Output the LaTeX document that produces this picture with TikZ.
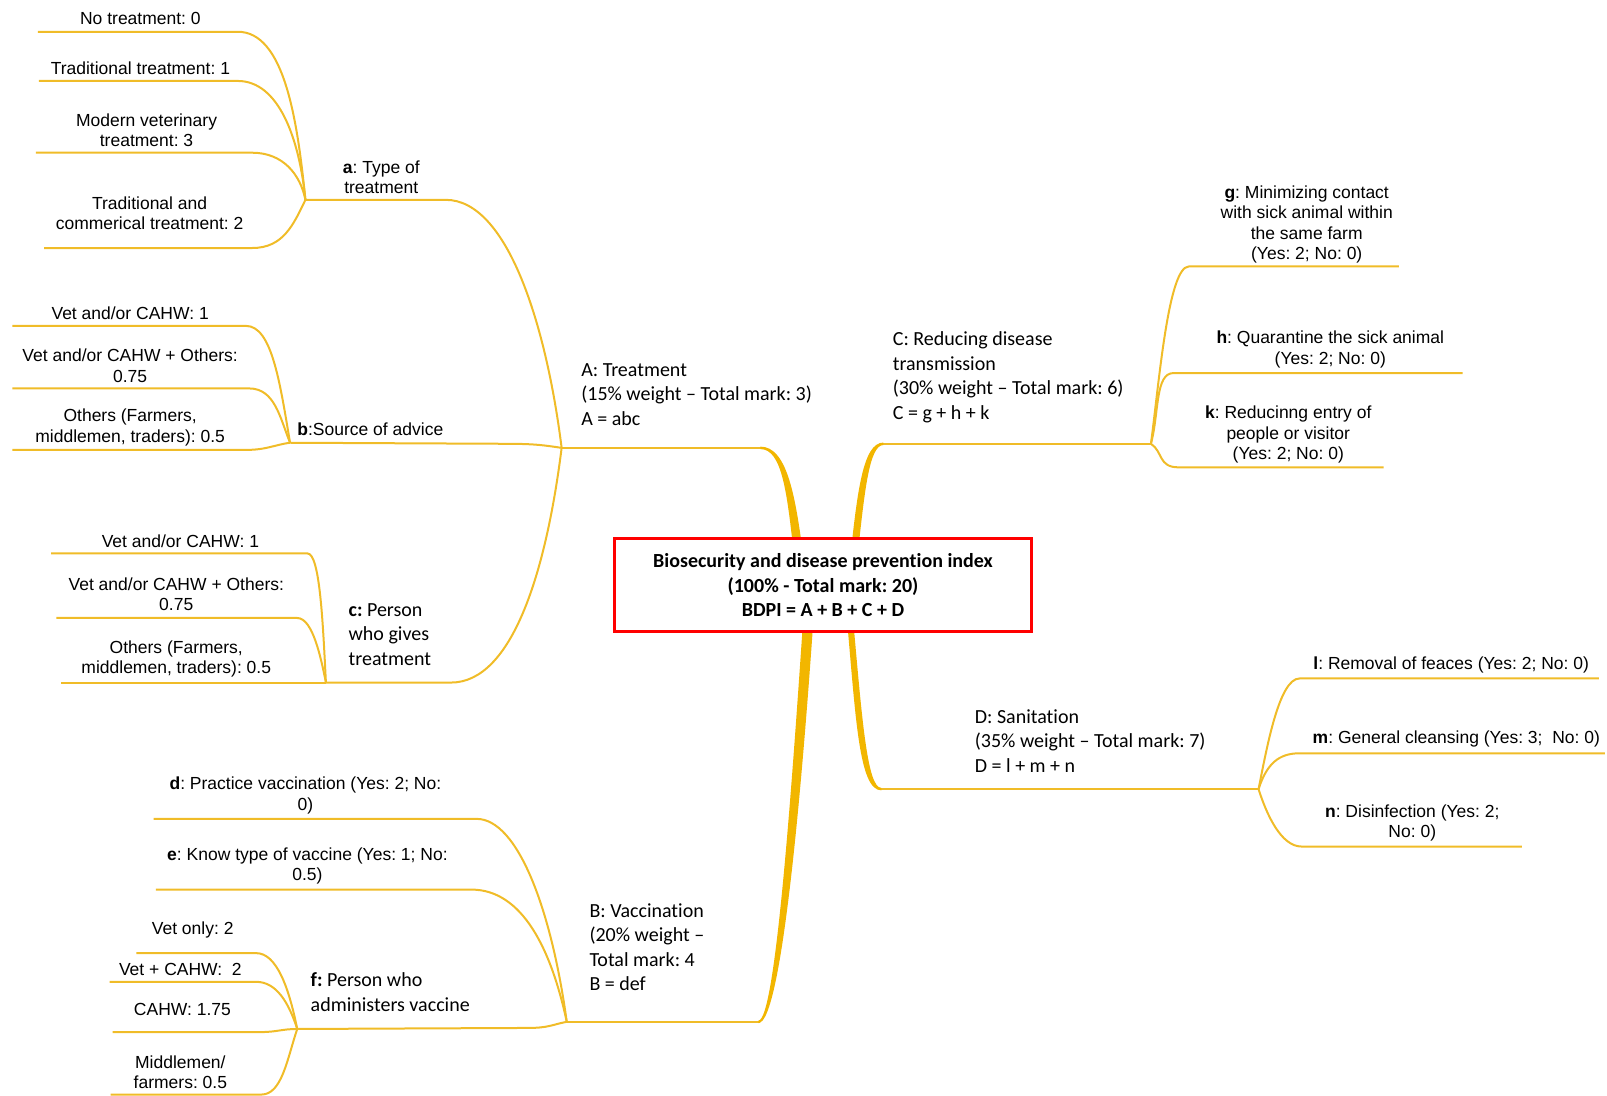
\documentclass[tikz,border=0pt]{standalone}
\usepackage{fontspec}
\setmainfont{Liberation Sans}
\newfontfamily\calf[Ligatures=NoCommon]{Carlito}
\usetikzlibrary{calc}
\definecolor{gold}{RGB}{240,188,40}
\definecolor{golddk}{RGB}{242,182,0}
\definecolor{boxred}{RGB}{255,0,0}
\frenchspacing
\begin{document}
\begin{tikzpicture}[x=1.025pt,y=-1.025pt,
  br/.style={draw=gold, line width=2pt},
  tb/.style={fill=golddk, draw=none},
  lab/.style={font=\frenchspacing\fontsize{17.5}{20.5}\selectfont, align=center, inner sep=0pt},
  cal/.style={font=\frenchspacing\calf\fontsize{20}{24.5}\selectfont, align=left, inner sep=0pt, anchor=west},
  bigbox/.style={draw=boxred, line width=3.5pt, fill=white, minimum width=417pt, minimum height=93pt,
     font=\frenchspacing\calf\bfseries\fontsize{20}{24.6}\selectfont, align=center, inner sep=0pt}]
\useasboundingbox (0,0) rectangle (1568,1069);

% junctions
\coordinate (aj) at (298,195);
\coordinate (bj) at (283,432);
\coordinate (cj) at (318,666);
\coordinate (Aj) at (548,437);
\coordinate (Ac) at (744,437);
\coordinate (Bj) at (553,997);
\coordinate (Bc) at (742,997);
\coordinate (fj) at (290,1004);
\coordinate (Cj) at (1123,433);
\coordinate (Cc) at (860,433);
\coordinate (Dj) at (1228,770);
\coordinate (Dc) at (858,770);

% leaf line ends
\coordinate (a1s) at (37,31);   \coordinate (a1e) at (232,31);
\coordinate (a2s) at (38,79);   \coordinate (a2e) at (232,79);
\coordinate (a3s) at (35,149);  \coordinate (a3e) at (246,149);
\coordinate (a4s) at (43,242);  \coordinate (a4e) at (246,242);
\coordinate (ac)  at (435,195);
\coordinate (b1s) at (12,318);  \coordinate (b1e) at (240,318);
\coordinate (b2s) at (12,379);  \coordinate (b2e) at (243,379);
\coordinate (b3s) at (12,439);  \coordinate (b3e) at (240,439);
\coordinate (bc)  at (490,433);
\coordinate (c1s) at (50,540);  \coordinate (c1e) at (300,540);
\coordinate (c2s) at (55,603);  \coordinate (c2e) at (290,603);
\coordinate (c3s) at (60,666);
\coordinate (cc)  at (440,666);
\coordinate (ds) at (150,799);  \coordinate (de) at (465,799);
\coordinate (es) at (152,868);  \coordinate (ee) at (460,868);
\coordinate (fc) at (515,1003);
\coordinate (f1s) at (133,930); \coordinate (f1e) at (250,930);
\coordinate (f2s) at (107,958); \coordinate (f2e) at (250,958);
\coordinate (f3s) at (110,1007);\coordinate (f3e) at (255,1007);
\coordinate (f4s) at (108,1068);\coordinate (f4e) at (255,1068);
\coordinate (gs) at (1160,260); \coordinate (ge) at (1365,260);
\coordinate (hs) at (1145,364); \coordinate (he) at (1427,364);
\coordinate (ks) at (1150,456); \coordinate (ke) at (1350,456);
\coordinate (ls) at (1268,662); \coordinate (le) at (1560,662);
\coordinate (ms) at (1268,735); \coordinate (me) at (1566,735);
\coordinate (ns) at (1270,826); \coordinate (ne) at (1485,826);

% group a
\draw[br] (a1s) -- (a1e) .. controls +(45,0) and +(-8,-80) .. (aj);
\draw[br] (a2s) -- (a2e) .. controls +(40,0) and +(-6,-60) .. (aj);
\draw[br] (a3s) -- (a3e) .. controls +(30,0) and +(-5,-25) .. (aj);
\draw[br] (a4s) -- (a4e) .. controls +(30,0) and +(-12,25) .. (aj);
\draw[br] (aj) -- (ac) .. controls +(60,0) and +(-15,-120) .. (Aj);
% group b
\draw[br] (b1s) -- (b1e) .. controls +(25,0) and +(-10,-60) .. (bj);
\draw[br] (b2s) -- (b2e) .. controls +(25,0) and +(-10,-25) .. (bj);
\draw[br] (b3s) -- (b3e) .. controls +(20,0) and +(-15,2) .. (bj);
\draw[br] (bj) -- (bc) .. controls +(30,0) and +(-20,-3) .. (Aj);
% group c
\draw[br] (c1s) -- (c1e) .. controls +(12,0) and +(-3,-60) .. (cj);
\draw[br] (c2s) -- (c2e) .. controls +(15,0) and +(-5,-25) .. (cj);
\draw[br] (c3s) -- (cj);
\draw[br] (cj) -- (cc) .. controls +(60,0) and +(-15,120) .. (Aj);
\draw[br] (Aj) -- (Ac);
% group B
\draw[br] (ds) -- (de) .. controls +(40,0) and +(-15,-110) .. (Bj);
\draw[br] (es) -- (ee) .. controls +(50,0) and +(-15,-70) .. (Bj);
\draw[br] (f1s) -- (f1e) .. controls +(20,0) and +(-8,-40) .. (fj);
\draw[br] (f2s) -- (f2e) .. controls +(20,0) and +(-8,-25) .. (fj);
\draw[br] (f3s) -- (f3e) .. controls +(15,0) and +(-15,0) .. (fj);
\draw[br] (f4s) -- (f4e) .. controls +(20,0) and +(-10,30) .. (fj);
\draw[br] (fj) -- (fc) .. controls +(20,0) and +(-15,3) .. (Bj);
\draw[br] (Bj) -- (Bc);
% group C
\draw[br] (Cc) -- (Cj);
\draw[br] (Cj) .. controls +(8,-60) and +(-20,0) .. (gs) -- (ge);
\draw[br] (Cj) .. controls +(8,-30) and +(-18,0) .. (hs) -- (he);
\draw[br] (Cj) .. controls +(12,8) and +(-20,0) .. (ks) -- (ke);
% group D
\draw[br] (Dc) -- (Dj);
\draw[br] (Dj) .. controls +(8,-40) and +(-20,0) .. (ls) -- (le);
\draw[br] (Dj) .. controls +(8,-25) and +(-20,0) .. (ms) -- (me);
\draw[br] (Dj) .. controls +(8,25) and +(-20,0) .. (ns) -- (ne);

% thick tapered main branches
\fill[tb] (742,435.8) .. controls (767,435.8) and (776,480) .. (784,545) -- (775,545) .. controls (768,480) and (763,438.2) .. (742,438.2) -- cycle;
\fill[tb] (784,600) .. controls (773,760) and (757,995.8) .. (740,995.8) -- (740,998.2) .. controls (763,998.2) and (783,760) .. (794,600) -- cycle;
\fill[tb] (829.5,545) .. controls (836.5,480) and (842,431.8) .. (862,431.8) -- (862,434.2) .. controls (848,434.2) and (843.5,480) .. (836.5,545) -- cycle;
\fill[tb] (826,600) .. controls (835,700) and (838,771.2) .. (860,771.2) -- (860,768.8) .. controls (846,768.8) and (841,700) .. (832,600) -- cycle;

% central box
\node[bigbox] (box) at (803,571) {Biosecurity and disease prevention index\\(100\% - Total mark: 20)\\BDPI = A + B + C + D};

% main labels
\node[cal] (tA) at (567,385) {A: Treatment\\(15\% weight – Total mark: 3)\\A = abc};
\node[cal] (tC) at (871,368) {C: Reducing disease\\transmission\\(30\% weight – Total mark: 6)\\C = g + h + k};
\node[cal] (tD) at (951,723) {D: Sanitation\\(35\% weight – Total mark: 7)\\D = l + m + n};
\node[cal] (tB) at (575,924) {B: Vaccination\\(20\% weight –\\Total mark: 4\\B = def};

% sub labels
\node[lab] (ta) at (372,173) {\textbf{a}: Type of\\treatment};
\node[lab, anchor=west] (tbb) at (290,419) {\textbf{b}:Source of advice};
\node[cal] (tc) at (340,619) {{\bfseries c:} Person\\who gives\\treatment};
\node[cal] (tf) at (303,968) {{\bfseries f:} Person who\\administers vaccine};

% leaves a
\node[lab] (t1) at (137,18) {No treatment: 0};
\node[lab] (t2) at (137,67) {Traditional treatment: 1};
\node[lab] (t3) at (143,127) {Modern veterinary\\treatment: 3};
\node[lab] (t4) at (146,208) {Traditional and\\commerical treatment: 2};
% leaves b
\node[lab] (tb1) at (127,306) {Vet and/or CAHW: 1};
\node[lab] (tb2) at (127,357) {Vet and/or CAHW + Others:\\0.75};
\node[lab] (tb3) at (127,417) {Others (Farmers,\\middlemen, traders): 0.5};
% leaves c
\node[lab] (tc1) at (176,528) {Vet and/or CAHW: 1};
\node[lab] (tc2) at (172,580) {Vet and/or CAHW + Others:\\0.75};
\node[lab] (tc3) at (172,643) {Others (Farmers,\\middlemen, traders): 0.5};
% leaves B
\node[lab] (td) at (298,776) {\textbf{d}: Practice vaccination (Yes: 2; No:\\0)};
\node[lab] (te) at (300,845) {\textbf{e}: Know type of vaccine (Yes: 1; No:\\0.5)};
\node[lab] (tf1) at (188,907) {Vet only: 2};
\node[lab] (tf2) at (176,946) {Vet + CAHW:\ \ 2};
\node[lab] (tf3) at (178,985) {CAHW: 1.75};
\node[lab] (tf4) at (176,1046) {Middlemen/\\farmers: 0.5};
% leaves C
\node[lab] (tg) at (1275,219) {\textbf{g}: Minimizing contact\\with sick animal within\\the same farm\\(Yes: 2; No: 0)};
\node[lab] (th) at (1298,341) {\textbf{h}: Quarantine the sick animal\\(Yes: 2; No: 0)};
\node[lab] (tk) at (1257,424) {\textbf{k}: Reducinng entry of\\people or visitor\\(Yes: 2; No: 0)};
% leaves D
\node[lab] (tl) at (1416,649) {\textbf{l}: Removal of feaces (Yes: 2; No: 0)};
\node[lab] (tm) at (1421,721) {\textbf{m}: General cleansing (Yes: 3;\ \ No: 0)};
\node[lab] (tn) at (1378,803) {\textbf{n}: Disinfection (Yes: 2;\\No: 0)};
\end{tikzpicture}
\end{document}
